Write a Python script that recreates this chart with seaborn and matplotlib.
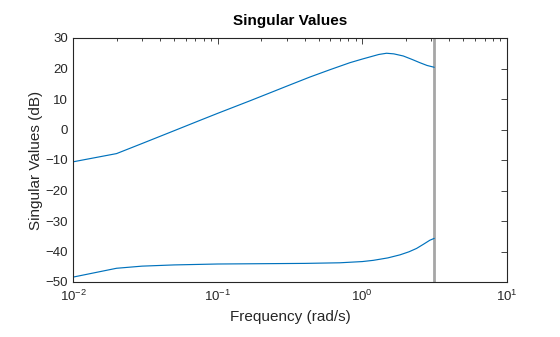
import numpy as np
import pandas as pd
import matplotlib
matplotlib.use("Agg")
import matplotlib.pyplot as plt
import seaborn as sns
from matplotlib.ticker import LogLocator, NullFormatter

# Data (frequency in rad/s, singular values in dB)
freq_upper = [0.01, 0.02, 0.03, 0.05, 0.0755, 0.1, 0.167, 0.25, 0.3, 0.434,
              0.597, 0.82, 1.0, 1.13, 1.3, 1.47, 1.65, 1.92, 2.2, 2.5,
              2.8, 3.1416]
sv_upper = [-10.6, -7.9, -4.6, -0.4, 3.0, 5.3, 9.4, 12.7, 14.2, 17.2,
            19.6, 21.9, 23.1, 23.8, 24.6, 25.0, 24.8, 24.1, 23.0, 21.9,
            21.0, 20.4]

freq_lower = [0.01, 0.02, 0.03, 0.05, 0.1, 0.2, 0.4, 0.7, 1.0, 1.19,
              1.5, 1.82, 2.1, 2.37, 2.65, 2.93, 3.1416]
sv_lower = [-48.4, -45.5, -44.8, -44.4, -44.1, -44.0, -43.9, -43.7, -43.3, -42.9,
            -42.1, -41.1, -40.1, -39.0, -37.6, -36.3, -35.7]

nyquist = 3.1416
xticks = [0.01, 0.1, 1, 10]
yticks = [-50, -40, -30, -20, -10, 0, 10, 20, 30]

df = pd.concat([
    pd.DataFrame({"freq": freq_upper, "sv": sv_upper, "sv_id": "sigma1"}),
    pd.DataFrame({"freq": freq_lower, "sv": sv_lower, "sv_id": "sigma2"}),
])

sns.set_theme(style="white")
plt.rcParams["font.family"] = ["Liberation Sans", "DejaVu Sans"]
plt.rcParams["mathtext.fontset"] = "custom"
plt.rcParams["mathtext.rm"] = "Liberation Sans"
plt.rcParams["mathtext.it"] = "Liberation Sans"

axcol = "#262626"
fig, ax = plt.subplots(figsize=(5.6, 3.37), dpi=100)
fig.subplots_adjust(left=73/560, right=507/560, top=1-38/337, bottom=1-282/337)

sns.lineplot(data=df, x="freq", y="sv", hue="sv_id", units="sv_id", estimator=None,
             palette={"sigma1": "#0072BD", "sigma2": "#0072BD"},
             linewidth=0.85, legend=False, ax=ax, sort=False)
ax.axvline(nyquist, color="#a6a6a6", linewidth=2.0, zorder=1)

ax.set_xscale("log")
ax.set_xlim(0.01, 10)
ax.set_ylim(-50, 30)
ax.set_xticks(xticks)
ax.xaxis.set_minor_locator(LogLocator(base=10, subs=np.arange(2, 10)))
ax.xaxis.set_minor_formatter(NullFormatter())
ax.set_yticks(yticks)

for s in ax.spines.values():
    s.set_visible(True)
    s.set_color(axcol)
    s.set_linewidth(0.8)

ax.tick_params(axis="both", which="both", direction="in", top=True, right=True,
               colors=axcol, labelsize=9.5)
ax.tick_params(axis="both", which="major", length=4, width=0.6)
ax.tick_params(axis="x", which="minor", length=2.5, width=0.6)
ax.tick_params(axis="x", which="major", pad=5)

ax.set_xlabel("Frequency (rad/s)", fontsize=11, color=axcol, labelpad=4)
ax.set_ylabel("Singular Values (dB)", fontsize=11, color=axcol, labelpad=2)
ax.set_title("Singular Values", fontsize=11, fontweight="bold", color="#000000", pad=9)
ax.grid(False)

fig.savefig("out.png", dpi=100)
